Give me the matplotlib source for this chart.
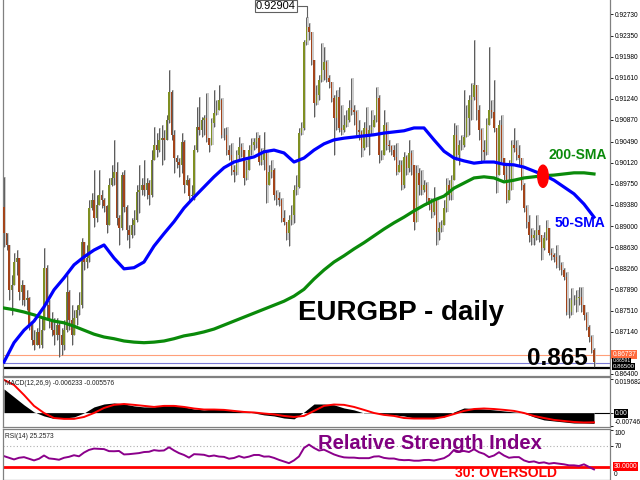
"""
EURGBP daily candles with 50/200 SMA, MACD and RSI panels (MT4 style).
"""
# %%
import numpy as np
import matplotlib.pyplot as plt
from matplotlib.patches import Ellipse
import matplotlib.transforms as mtransforms

plt.rcParams['font.family'] = ['Liberation Sans', 'DejaVu Sans']

# %%
# Daily candles, oldest first
first_open = 0.8934
closes = np.array([
    .8888, .8867, .8788, .8797, .8837, .8844, .8784, .8797, .8770, .8774,
    .8726, .8700, .8691, .8714, .8691, .8717, .8827, .8761, .8735, .8717,
    .8709, .8726, .8709, .8691, .8717, .8784, .8735, .8709, .8738, .8753,
    .8761, .8872, .8837, .8844, .8932, .8946, .8915, .8937, .8955, .8946,
    .8936, .8902, .8973, .8985, .8996, .8915, .8897, .8990, .8934, .8893,
    .8885, .8902, .8911, .8960, .8964, .8973, .8964, .8976, .8955, .9017,
    .9043, .9034, .9052, .9055, .9052, .9087, .9136, .9061, .9020, .9013,
    .9008, .9048, .8973, .8981, .8953, .8955, .9034, .9075, .9069, .9087,
    .9091, .9055, .9043, .9082, .9099, .9105, .9122, .9061, .9061, .9034,
    .9025, .8999, .8996, .9025, .9039, .9034, .8985, .8999, .9034, .9043,
    .9048, .9055, .9013, .9017, .9034, .8973, .8996, .8999, .8955, .8950,
    .8946, .8915, .8908, .8888, .8911, .8920, .8964, .8969, .9064, .9073,
    .9224, .9251, .9242, .9193, .9117, .9131, .9157, .9175, .9189, .9161,
    .9154, .9126, .9091, .9128, .9073, .9069, .9078, .9087, .9108, .9105,
    .9101, .9069, .9066, .9038, .9073, .9061, .9069, .9075, .9087, .9126,
    .9025, .9025, .9078, .9043, .9041, .9034, .9022, .8996, .9008, .8973,
    .9022, .9003, .9029, .9008, .8908, .8994, .8973, .8964, .8973, .8950,
    .8937, .8925, .8946, .8890, .8897, .8902, .8932, .8973, .8955, .8981,
    .9061, .9025, .9043, .9043, .9057, .9091, .9122, .9128, .9149, .9105,
    .9069, .9034, .9031, .9078, .9105, .9101, .9073, .8990, .9078, .9020,
    .8990, .8946, .8964, .9043, .9038, .9025, .9020, .8973, .8932, .8908,
    .8885, .8879, .8885, .8893, .8885, .8862, .8879, .8897, .8853, .8849,
    .8845, .8832, .8832, .8823, .8811, .8749, .8749, .8770, .8770, .8774,
    .8776, .8761, .8744, .8723, .8705, .8682, .8661])
highs = np.array([
    .8987, .8876, .8858, .8814, .8853, .8858, .8837, .8805, .8791, .8788,
    .8776, .8731, .8717, .8721, .8738, .8738, .8862, .8832, .8770, .8749,
    .8738, .8738, .8731, .8721, .8735, .8814, .8788, .8761, .8753, .8761,
    .8784, .8879, .8858, .8867, .8946, .8959, .8999, .8955, .8999, .8964,
    .8950, .8937, .8985, .9008, .9052, .9013, .8920, .8996, .8999, .8937,
    .8902, .8915, .8929, .8973, .9008, .8985, .9017, .8985, .8981, .9034,
    .9075, .9064, .9073, .9078, .9069, .9096, .9175, .9140, .9069, .9025,
    .9020, .9064, .9052, .8990, .8985, .8973, .9043, .9110, .9128, .9092,
    .9096, .9134, .9055, .9091, .9140, .9122, .9149, .9126, .9073, .9075,
    .9043, .9047, .9008, .9034, .9057, .9047, .9034, .9017, .9043, .9055,
    .9055, .9066, .9061, .9038, .9066, .9025, .9008, .9017, .9003, .8964,
    .8960, .8950, .8929, .8908, .8920, .8937, .8973, .8990, .9073, .9083,
    .9228, .9268, .9258, .9237, .9179, .9149, .9166, .9223, .9215, .9193,
    .9166, .9154, .9131, .9140, .9145, .9113, .9096, .9105, .9122, .9161,
    .9113, .9105, .9087, .9069, .9083, .9110, .9078, .9105, .9096, .9145,
    .9131, .9034, .9105, .9083, .9052, .9043, .9043, .9047, .9017, .9017,
    .9031, .9025, .9052, .9034, .8978, .9008, .9003, .8999, .8981, .8978,
    .8950, .8950, .8969, .8920, .8908, .8911, .8946, .8985, .8981, .8990,
    .9082, .9078, .9052, .9061, .9140, .9113, .9131, .9152, .9228, .9131,
    .9113, .9073, .9052, .9091, .9215, .9122, .9157, .9073, .9087, .9096,
    .9017, .9008, .9017, .9052, .9073, .9052, .9043, .9020, .8976, .8937,
    .8920, .8897, .8893, .8920, .8902, .8885, .8890, .8911, .8897, .8862,
    .8853, .8867, .8849, .8837, .8827, .8819, .8774, .8791, .8779, .8788,
    .8793, .8793, .8761, .8749, .8726, .8709, .8686])
lows = np.array([
    .8863, .8858, .8770, .8744, .8805, .8814, .8770, .8761, .8760, .8753,
    .8717, .8691, .8682, .8696, .8686, .8686, .8717, .8738, .8721, .8707,
    .8691, .8700, .8670, .8673, .8682, .8714, .8717, .8691, .8721, .8726,
    .8744, .8756, .8823, .8827, .8837, .8929, .8899, .8908, .8937, .8932,
    .8925, .8888, .8902, .8971, .8973, .8902, .8867, .8893, .8925, .8876,
    .8862, .8879, .8885, .8908, .8923, .8955, .8953, .8948, .8937, .8951,
    .9017, .9022, .9031, .9008, .9017, .9052, .9082, .9052, .8994, .9003,
    .8987, .8994, .8959, .8973, .8943, .8946, .8946, .9031, .9061, .9057,
    .9061, .9048, .9031, .9052, .9075, .9096, .9105, .9055, .9052, .9025,
    .9017, .8990, .8978, .8990, .9017, .9022, .8973, .8981, .9008, .9025,
    .9034, .9038, .9008, .9008, .8999, .8941, .8981, .8985, .8946, .8937,
    .8936, .8908, .8902, .8876, .8865, .8902, .8905, .8955, .8967, .9061,
    .9069, .9219, .9228, .9184, .9092, .9113, .9122, .9154, .9157, .9154,
    .9143, .9119, .9025, .9069, .9066, .9061, .9066, .9075, .9083, .9096,
    .9078, .9061, .9052, .9022, .9034, .9039, .9025, .9061, .9078, .9083,
    .9011, .9017, .9025, .9034, .9031, .9025, .9017, .8990, .8999, .8964,
    .8967, .8990, .8996, .8990, .8893, .8911, .8955, .8955, .8960, .8937,
    .8929, .8915, .8920, .8867, .8876, .8890, .8902, .8925, .8946, .8946,
    .8990, .9017, .9008, .9034, .9039, .9057, .9061, .9087, .9122, .9087,
    .9052, .9011, .9017, .9025, .9096, .9091, .9066, .8959, .9069, .9013,
    .8981, .8941, .8955, .9025, .9031, .9017, .9008, .8964, .8925, .8897,
    .8872, .8867, .8867, .8876, .8872, .8841, .8858, .8876, .8849, .8841,
    .8837, .8827, .8823, .8814, .8805, .8744, .8738, .8744, .8761, .8749,
    .8761, .8749, .8735, .8717, .8696, .8677, .8652])

# Moving averages, sampled every 4th bar
sma50 = [
    .8661, .8695, .8717, .8733, .8758, .8788, .8809, .8832, .8846, .8858,
    .8867, .8844, .8825, .8827, .8837, .8865, .8887, .8908, .8932, .8951,
    .8969, .8987, .9003, .9013, .9018, .9022, .9031, .9034, .9029, .9013,
    .9020, .9034, .9045, .9052, .9055, .9057, .9059, .9061, .9064, .9066,
    .9068, .9073, .9073, .9052, .9032, .9020, .9015, .9011, .9013, .9013,
    .9009, .9008, .9004, .8997, .8990, .8981, .8969, .8957, .8939, .8916]
sma200 = [
    .8756, .8753, .8749, .8744, .8738, .8733, .8730, .8724, .8717, .8710,
    .8705, .8702, .8698, .8696, .8695, .8696, .8698, .8702, .8707, .8710,
    .8714, .8719, .8726, .8733, .8740, .8747, .8754, .8761, .8768, .8777,
    .8789, .8807, .8823, .8837, .8848, .8860, .8871, .8883, .8895, .8906,
    .8916, .8927, .8937, .8946, .8953, .8967, .8976, .8985, .8987, .8985,
    .8978, .8981, .8985, .8987, .8989, .8990, .8992, .8994, .8994, .8992]

# MACD(12,26,9): main (histogram) and signal, every 4th bar
macd_main = [
    .0137, .0091, .0045, .0004, -.0019, -.0034, -.0031, -.0025, -.0002, .0033,
    .0050, .0056, .0050, .0039, .0033, .0033, .0045, .0045, .0033, .0021,
    .0016, .0021, .0018, .0010, .0004, -.0002, -.0013, -.0019, -.0031, -.0036,
    .0004, .0050, .0050, .0045, .0027, .0016, -.0002, -.0002, -.0008, -.0013,
    -.0019, -.0031, -.0028, -.0031, -.0025, .0004, .0027, .0024, .0021, .0016,
    .0010, .0004, -.0002, -.0025, -.0042, -.0048, -.0054, -.0060, -.0060, -.0062]
macd_signal = [
    .0189, .0160, .0102, .0039, -.0002, -.0031, -.0036, -.0036, -.0025, -.0002,
    .0027, .0045, .0050, .0045, .0039, .0033, .0039, .0039, .0033, .0024,
    .0018, .0018, .0016, .0010, .0004, .0001, -.0005, -.0010, -.0019, -.0025,
    -.0019, .0010, .0039, .0047, .0045, .0033, .0016, -.0002, -.0013, -.0019,
    -.0031, -.0034, -.0034, -.0034, -.0025, -.0008, .0010, .0021, .0024, .0021,
    .0016, .0010, -.0002, -.0019, -.0031, -.0042, -.0048, -.0054, -.0057, -.0056]

# RSI(14), every 2nd bar
rsi = [
    50.3, 47.2, 44.1, 47.2, 48.4, 45.4, 42.3, 45.4, 51.5, 46.0,
    45.0, 43.5, 47.2, 49.0, 52.0, 50.0, 57.0, 62.0, 64.5, 64.0,
    63.5, 59.7, 59.5, 60.0, 53.5, 54.0, 55.0, 56.0, 58.0, 58.5,
    61.6, 60.4, 61.0, 67.0, 61.0, 56.0, 52.5, 47.5, 54.0, 53.5,
    52.8, 50.0, 51.5, 49.5, 48.9, 45.5, 46.8, 50.4, 47.4, 49.4,
    52.5, 52.5, 49.4, 49.7, 47.0, 43.3, 40.2, 37.1, 42.3, 49.7,
    65.7, 72.0, 65.7, 60.8, 62.5, 58.0, 53.5, 50.3, 48.0, 47.5,
    47.5, 46.5, 46.5, 46.5, 49.5, 50.0, 47.0, 45.8, 45.8, 43.5,
    42.7, 43.0, 41.7, 41.7, 43.0, 43.2, 42.0, 44.2, 46.5, 52.0,
    62.0, 59.0, 60.0, 58.0, 63.3, 57.7, 54.6, 48.4, 51.5, 57.7,
    51.5, 47.2, 48.4, 48.4, 42.3, 39.2, 40.4, 37.4, 38.6, 36.1,
    37.4, 36.1, 34.9, 33.0, 33.0, 31.8, 34.9, 30.0, 25.3]

# Axis labels
price_ticks = [0.92730, 0.92350, 0.91980, 0.91610, 0.91240, 0.90870,
               0.90490, 0.90120, 0.89750, 0.89380, 0.89000, 0.88630,
               0.88260, 0.87890, 0.87510, 0.87140, 0.86400]
ask_level, bid_level, target_level = 0.86737, 0.86591, 0.86500
peak_label = '0.92904'
macd_ticks = [0.019682, 0.0, -0.007467]
macd_ticklabels = ['0.019682', '0.00', '-0.007467']

# %%
n = len(closes)
idx = np.arange(n)
opens = np.r_[first_open, closes[:-1]]
highs = np.maximum(highs, np.maximum(opens, closes))
lows = np.minimum(lows, np.minimum(opens, closes))
up = closes >= opens
sma_idx = np.arange(0, n, 4)
rsi_idx = np.arange(0, n, 2)

x_range = (-0.4, 242.4)
bull, bear = '#7f8f22', '#a3441a'
frame = '#808080'

fig = plt.figure(figsize=(6.4, 4.8), dpi=100)
ax1 = fig.add_axes([0.0047, 0.2167, 0.9484, 0.7833])
ax2 = fig.add_axes([0.0047, 0.1104, 0.9484, 0.1042])
ax3 = fig.add_axes([0.0047, 0.0, 0.9484, 0.1063])

for ax in (ax1, ax2, ax3):
    ax.set_xlim(x_range)
    ax.set_xticks([])
    ax.yaxis.tick_right()
    ax.tick_params(axis='y', labelsize=4.8, length=2, width=0.6, pad=1.5,
                   colors='black')
    for s in ax.spines.values():
        s.set_color(frame)
        s.set_linewidth(0.9)
ax1.spines['top'].set_visible(False)

# Main chart
ax1.set_ylim(0.86364, 0.92982)
ax1.vlines(idx + 0.45, lows, highs, color='#bdbdbd', lw=1.1, zorder=1)
ax1.vlines(idx, lows, highs, color='#484848', lw=0.6, zorder=2)
ax1.bar(idx, closes - opens, bottom=opens, width=0.75,
        color=np.where(up, bull, bear), lw=0, zorder=3)
ax1.plot(sma_idx, sma200, color='#0a8a0a', lw=2.3, zorder=4)
ax1.plot(sma_idx, sma50, color='#0000ff', lw=2.3, zorder=5)
ax1.add_patch(Ellipse((215.6, 0.8988), 4.2, 0.0039, color='#ff0000',
                      zorder=6))

ax1.axhline(ask_level, color='#ffa07a', lw=0.8, zorder=0)
ax1.axhline(bid_level, color='#7b7bd6', lw=0.8, zorder=0)
ax1.axhline(target_level, color='black', lw=1.6, zorder=0)

ax1.set_yticks(price_ticks)
ax1.set_yticklabels(['%.5f' % v for v in price_ticks])
trans = mtransforms.blended_transform_factory(ax1.transAxes, ax1.transData)
ax1.text(1.004, ask_level, '%.5f' % ask_level, transform=trans, fontsize=4.8,
         color='white', va='center', ha='left',
         bbox=dict(boxstyle='square,pad=0.15', fc='#ff6a3d', ec='none'))
ax1.text(1.004, bid_level + 0.0004, '%.5f' % bid_level, transform=trans,
         fontsize=3.6, color='white', va='center', ha='left',
         bbox=dict(boxstyle='square,pad=0.1', fc='black', ec='none'))
ax1.text(1.004, target_level + 0.0003, '%.5f' % target_level,
         transform=trans, fontsize=4.4, color='white', va='center',
         ha='left', bbox=dict(boxstyle='square,pad=0.1', fc='black',
                              ec='none'))

ax1.annotate(peak_label, xy=(121.3, highs[121]), xytext=(108.8, 0.92877),
             fontsize=8, ha='center', va='center',
             bbox=dict(boxstyle='square,pad=0.12', fc='white', ec='#606060',
                       lw=0.8),
             arrowprops=dict(arrowstyle='-', color='#606060', lw=0.8,
                             shrinkA=0, shrinkB=0,
                             connectionstyle='angle,angleA=0,angleB=90,rad=0'))

ax1.text(229.6, 0.9025, '200-SMA', color='#0a8a0a', fontsize=10,
         fontweight='bold', ha='center', va='center')
ax1.text(230.4, 0.8906, '50-SMA', color='#0000ff', fontsize=10,
         fontweight='bold', ha='center', va='center')
ax1.text(159.0, 0.8735, 'EURGBP - daily', color='black', fontsize=20,
         fontweight='bold', ha='center', va='baseline')
ax1.text(221.4, 0.86558, '0.865', color='black', fontsize=17.5,
         fontweight='bold', ha='center', va='baseline')

# MACD
ax2.set_ylim(-0.0083, 0.0206)
ax2.fill_between(sma_idx, 0, macd_main, color='black', lw=0)
ax2.plot(sma_idx, macd_signal, color='#ff0000', lw=1.4)
ax2.hlines(0, sma_idx[-1], x_range[1], color='black', lw=0.8)
ax2.set_yticks(macd_ticks)
ax2.set_yticklabels(macd_ticklabels)
lbls = ax2.get_yticklabels()
lbls[0].set_va('top')
lbls[2].set_va('bottom')
lbls[1].set_color('white')
lbls[1].set_bbox(dict(boxstyle='square,pad=0.1', fc='black', ec='none'))
ax2.text(0.004, 0.93, 'MACD(12,26,9) -0.006233 -0.005576',
         transform=ax2.transAxes, fontsize=4.8, color='#202020', va='top')

# RSI
ax3.set_ylim(5.4, 101.4)
ax3.axhline(70, color='#b0b0b0', lw=0.8, ls=(0, (1, 2)))
ax3.axhline(30, color='#ff0000', lw=2.0)
ax3.plot(rsi_idx, rsi, color='#8b008b', lw=1.4)
ax3.set_yticks([100, 70])
ax3.set_yticklabels(['100', '70'])
ax3.get_yticklabels()[0].set_va('top')
trans3 = mtransforms.blended_transform_factory(ax3.transAxes, ax3.transData)
ax3.text(1.006, 30, '30.0000', transform=trans3, fontsize=4.8,
         color='white', va='center', ha='left',
         bbox=dict(boxstyle='square,pad=0.15', fc='#ff0000', ec='none'))
ax3.text(1.006, 0.03, '0', transform=ax3.transAxes, fontsize=4.8,
         va='bottom', ha='left')
ax3.text(0.004, 0.92, 'RSI(14) 25.2573', transform=ax3.transAxes,
         fontsize=4.8, color='#202020', va='top')
ax3.text(170.4, 64.4, 'Relative Strength Index', color='#800080',
         fontsize=14.5, fontweight='bold', ha='center', va='baseline')
ax3.text(201.0, 11.5, '30: OVERSOLD', color='#ff0000', fontsize=10,
         fontweight='bold', ha='center', va='baseline')

fig.savefig('out.png', dpi=100)
